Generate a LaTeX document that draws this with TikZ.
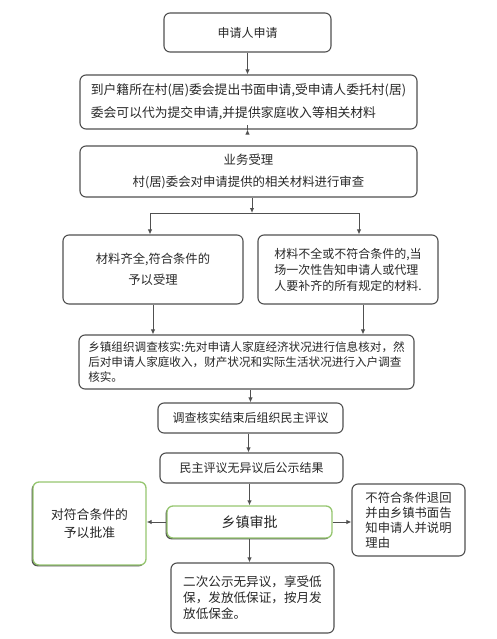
\documentclass[tikz,border=0pt]{standalone}
\usepackage{fontspec}
\setmainfont{Noto Sans CJK SC}
\usepackage{tikz}
\usetikzlibrary{arrows.meta, shadows}
\usepackage{xcolor}
\definecolor{bordo}{RGB}{80,80,80}
\definecolor{testo}{RGB}{40,40,40}
\definecolor{verde}{RGB}{150,198,112}
\tikzset{
  casella/.style = {draw = bordo, line width = 1.1pt, rounded corners = 6pt, fill = white,
    text = testo, inner sep = 0pt, align = center,
    font = \fontsize{12}{16}\selectfont},
  casellaverde/.style = {casella, draw = verde, line width = 1.3pt,
    drop shadow = {shadow xshift = -1.4pt, shadow yshift = -1.4pt, fill = bordo, opacity = 1}},
  freccia/.style = {-{Latex[length=5pt, width=4.5pt]}, draw = bordo, line width = 1pt}
}

\begin{document}
\begin{tikzpicture}[x = 1pt, y = -1pt]
    % Cornice
    \useasboundingbox (0,0) rectangle (497,639);

    % Domanda
    \node[casella, minimum width = 167pt, minimum height = 39pt] (domanda) at (247.5,32.5) {申请人申请};
    \node[casella, minimum width = 337pt, minimum height = 54pt, align = left,
      font = \fontsize{12.8}{23}\selectfont] (presentazione) at (248.5,102)
      {到户籍所在村(居)委会提出书面申请,受申请人委托村(居)\\委会可以代为提交申请,并提供家庭收入等相关材料};
    \node[casella, minimum width = 337pt, minimum height = 51pt,
      font = \fontsize{12.4}{22}\selectfont] (accettazione) at (248.5,171.5)
      {业务受理\\村(居)委会对申请提供的相关材料进行审查};

    % Due esiti
    \node[casella, minimum width = 180pt, minimum height = 69pt,
      font = \fontsize{12.3}{21}\selectfont] (completa) at (153,269.5)
      {材料齐全,符合条件的\\予以受理};
    \node[casella, minimum width = 180pt, minimum height = 69pt, align = left] (incompleta) at (348,269.5)
      {材料不全或不符合条件的,当\\场一次性告知申请人或代理\\人要补齐的所有规定的材料.};

    % Verifica e valutazione
    \node[casella, minimum width = 335pt, minimum height = 54pt, align = left,
      font = \fontsize{11.6}{15}\selectfont] (verifica) at (246.5,362)
      {乡镇组织调查核实:先对申请人家庭经济状况进行信息核对，然\\后对申请人家庭收入，财产状况和实际生活状况进行入户调查\\核实。};
    \node[casella, minimum width = 185pt, minimum height = 30pt] (valutazione) at (250.5,418) {调查核实结束后组织民主评议};
    \node[casella, minimum width = 183pt, minimum height = 30pt] (pubblicita) at (251.5,468) {民主评议无异议后公示结果};

    % Approvazione
    \node[casellaverde, minimum width = 165pt, minimum height = 32pt,
      font = \fontsize{14}{16}\selectfont] (approvazione) at (249.5,522) {乡镇审批};
    \node[casellaverde, minimum width = 113pt, minimum height = 83pt,
      font = \fontsize{12.8}{18}\selectfont] (approvata) at (89.5,523.5) {对符合条件的\\予以批准};
    \node[casella, minimum width = 113pt, minimum height = 72pt, align = left,
      font = \fontsize{12.3}{15}\selectfont] (respinta) at (408.5,520)
      {不符合条件退回\\并由乡镇书面告\\知申请人并说明\\理由};
    \node[casella, minimum width = 163pt, minimum height = 70pt, align = left,
      font = \fontsize{12.6}{16}\selectfont] (erogazione) at (252.5,598)
      {二次公示无异议，享受低\\保，发放低保证，按月发\\放低保金。};

    % Frecce
    \draw[freccia] (domanda.south) -- (domanda.south |- presentazione.north);
    \draw[freccia] (presentazione.south -| domanda) -- (presentazione.south -| domanda |- accettazione.north);
    \coordinate (ramo) at (252,213);
    \coordinate (ramoS) at (150,213);
    \coordinate (ramoD) at (359,213);
    \draw[freccia] (accettazione.south -| ramo) -- (ramo);
    \draw[bordo, line width = 1pt] (ramoS) -- (ramoD);
    \draw[freccia] (ramoS) -- (ramoS |- completa.north);
    \draw[freccia] (ramoD) -- (ramoD |- incompleta.north);
    \draw[freccia] (completa.south) -- (completa.south |- verifica.north);
    \draw[freccia] ([xshift=15pt]incompleta.south) -- ([xshift=15pt]incompleta.south |- verifica.north);
    \draw[freccia] (verifica.south -| valutazione) -- (valutazione.north);
    \draw[freccia] ([xshift=-2pt]valutazione.south) -- ([xshift=-2pt]valutazione.south |- pubblicita.north);
    \draw[freccia] (pubblicita.south -| approvazione) -- (approvazione.north);
    \draw[freccia] (approvazione.west) -- (approvazione.west -| approvata.east);
    \draw[freccia] (approvazione.east) -- (approvazione.east -| respinta.west);
    \draw[freccia] (approvazione.south) -- (approvazione.south |- erogazione.north);
\end{tikzpicture}
\end{document}
